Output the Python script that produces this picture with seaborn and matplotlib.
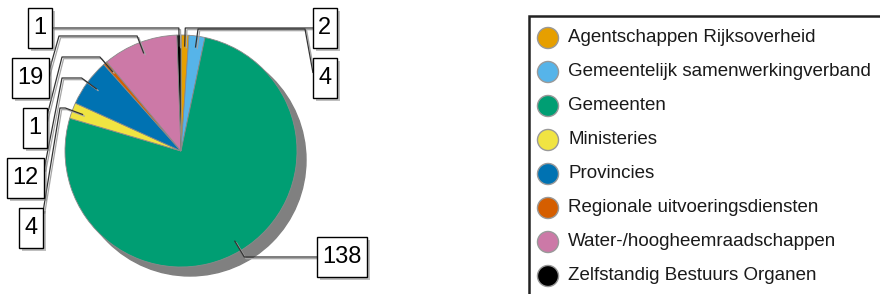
import numpy as np
import pandas as pd
import matplotlib
matplotlib.use("Agg")
import matplotlib.pyplot as plt
import matplotlib.patheffects as pe
from matplotlib.patches import Circle, Rectangle
import seaborn as sns

# data
categories = ["Agentschappen Rijksoverheid", "Gemeentelijk samenwerkingverband",
              "Gemeenten", "Ministeries", "Provincies",
              "Regionale uitvoeringsdiensten", "Water-/hoogheemraadschappen",
              "Zelfstandig Bestuurs Organen"]
values = [2, 4, 138, 4, 12, 1, 19, 1]
colors = ["#E69F00", "#56B4E9", "#009E73", "#F0E442",
          "#0072B2", "#D55E00", "#CC79A7", "#000000"]

# label box centres and leader routes, in pixels (y from top)
box_xy = [(324.5, 28), (325, 78), (342, 256.5), (31, 228),
          (25.5, 178), (34.5, 128), (30, 78), (40, 28)]
route_h = [28, 29, 257, 108, 78, 57, 36, 28]
route_xk = [None, 305, None, 60, 62, 62, 59, None]
route_end = [(313, 28), (313, 73), (317, 257), (43, 212),
             (44, 170), (46, 120), (48, 75), (52, 28)]

W, H = 880, 294
def py(y):
    return H - y

sns.set_theme(style="white")
plt.rcParams['font.family'] = ['Liberation Sans', 'DejaVu Sans']
palette = sns.color_palette(colors)

fig = plt.figure(figsize=(8.8, 2.94), dpi=100)
ax = fig.add_axes([0, 0, 1, 1])

cx, cy, R = 181, py(151), 116
ax.add_patch(Circle((cx + 9, cy - 9), R, color="#808080", zorder=1))
ax.pie(values, colors=palette, startangle=90, counterclock=False,
       center=(cx, cy), radius=R,
       wedgeprops=dict(edgecolor="#8a8a8a", linewidth=0.6, zorder=2))

# leader lines and value boxes
vals = np.array(values, dtype=float)
mid = (np.cumsum(vals) - vals / 2) / vals.sum()
theta = np.deg2rad(90 - 360 * mid)
line_fx = [pe.SimpleLineShadow(offset=(1.2, -1.2), shadow_color="0.65", alpha=1),
           pe.Normal()]
box_fx = [pe.SimplePatchShadow(offset=(2.5, -2.5), shadow_rgbFace="0.5", alpha=0.5),
          pe.Normal()]
for i, v in enumerate(values):
    ax_ = cx + 0.9 * R * np.cos(theta[i])
    ay_ = cy + 0.9 * R * np.sin(theta[i])
    yh = py(route_h[i])
    t = (yh - cy) / np.sin(theta[i])
    kx = cx + t * np.cos(theta[i])
    xs = [ax_, kx]
    ys = [ay_, yh]
    if route_xk[i] is not None:
        xs.append(route_xk[i])
        ys.append(yh)
    xs.append(route_end[i][0])
    ys.append(py(route_end[i][1]))
    ax.plot(xs, ys, color="#333333", lw=0.9, zorder=4,
            solid_capstyle="butt", path_effects=line_fx)
    bx, by = box_xy[i]
    label = str(v)
    bw, bh = 11 + 13 * len(label), 40
    rect = Rectangle((bx - bw / 2, py(by) - bh / 2), bw, bh,
                     fc="white", ec="black", lw=1, zorder=5)
    rect.set_path_effects(box_fx)
    ax.add_patch(rect)
    ax.text(bx, py(by) - 0.5, label, ha="center", va="center",
            fontsize=17, color="black", zorder=6)

# legend
ax.add_patch(Rectangle((529, -20), 420, py(16) + 20, fill=False,
                       ec="#222222", lw=1.8, zorder=5))
leg = pd.DataFrame({"cat": categories,
                    "x": 548.0,
                    "y": [py(38 + 34 * i) for i in range(len(categories))]})
sns.scatterplot(data=leg, x="x", y="y", hue="cat", palette=palette,
                s=230, edgecolor="#999999", linewidth=1, legend=False,
                ax=ax, zorder=6)
for i, c in enumerate(categories):
    ax.text(568, leg["y"][i], c, ha="left", va="center",
            fontsize=13.5, color="#1a1a1a", zorder=6)

ax.set_xlim(0, W)
ax.set_ylim(0, H)
ax.set_aspect("equal")
ax.axis("off")
fig.savefig("out.png", dpi=100)
